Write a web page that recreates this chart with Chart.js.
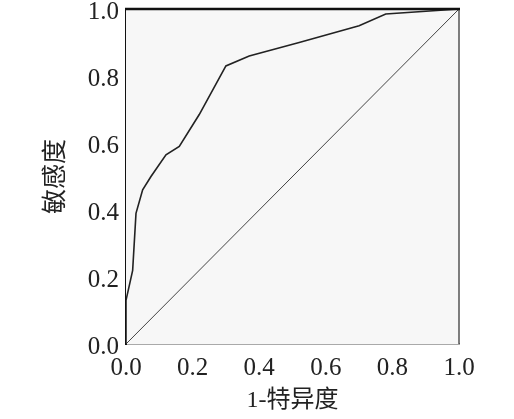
<!DOCTYPE html>
<html lang="zh">
<head>
  <meta charset="UTF-8">
  <title>ROC</title>
  <style>
    html, body { margin: 0; padding: 0; background: #fff; }
    #wrap { width: 514px; height: 419px; }
  </style>
</head>
<body>
  <div id="wrap"><canvas id="roc"></canvas></div>

  <script src="https://cdn.jsdelivr.net/npm/chart.js"></script>
  <script>
    // ROC curve
    const fpr = [0, 0, 0.02, 0.03, 0.05, 0.075, 0.12, 0.16, 0.22, 0.30, 0.37, 0.52, 0.70, 0.78, 1.0];
    const tpr = [0, 0.13, 0.22, 0.39, 0.46, 0.50, 0.565, 0.59, 0.685, 0.83, 0.86, 0.90, 0.95, 0.985, 1.0];
    const refX = [0, 1];
    const refY = [0, 1];
    const ticks = [0, 0.2, 0.4, 0.6, 0.8, 1.0];

    const serif = '"Liberation Serif", "Noto Sans CJK SC", serif';

    // plot background + top/right frame
    const frame = {
      id: 'frame',
      beforeDatasetsDraw(chart) {
        const { ctx, chartArea: a } = chart;
        ctx.save();
        ctx.fillStyle = '#f7f7f7';
        ctx.fillRect(a.left, a.top, a.right - a.left, a.bottom - a.top);
        ctx.restore();
      },
      afterDraw(chart) {
        const { ctx, chartArea: a } = chart;
        ctx.save();
        ctx.strokeStyle = '#555';
        ctx.lineWidth = 1.5;
        ctx.beginPath();
        ctx.moveTo(a.right, a.top);
        ctx.lineTo(a.right, a.bottom);
        ctx.stroke();
        ctx.strokeStyle = '#111';
        ctx.lineWidth = 2.5;
        ctx.beginPath();
        ctx.moveTo(a.left - 1, a.top);
        ctx.lineTo(a.right + 1, a.top);
        ctx.stroke();
        ctx.restore();
      }
    };

    new Chart(document.getElementById('roc'), {
      type: 'scatter',
      data: {
        datasets: [
          {
            data: fpr.map((x, i) => ({ x, y: tpr[i] })),
            showLine: true,
            borderColor: '#222',
            borderWidth: 1.6,
            pointRadius: 0,
            tension: 0
          },
          {
            data: refX.map((x, i) => ({ x, y: refY[i] })),
            showLine: true,
            borderColor: '#444',
            borderWidth: 1,
            pointRadius: 0
          }
        ]
      },
      options: {
        responsive: true,
        maintainAspectRatio: false,
        animation: false,
        layout: { padding: { top: 9, right: 55, left: 37, bottom: 0 } },
        plugins: { legend: { display: false }, tooltip: { enabled: false } },
        scales: {
          x: {
            type: 'linear', min: 0, max: 1,
            afterBuildTicks: s => { s.ticks = ticks.map(v => ({ value: v })); },
            afterFit: s => { s.height = 75; },
            grid: { display: false, drawTicks: true, tickLength: 5, color: '#333' },
            border: { color: '#555', width: 1.5 },
            ticks: {
              color: '#222', padding: 4,
              font: { family: serif, size: 25 },
              callback: v => v.toFixed(1)
            },
            title: {
              display: true, text: '1-特异度', color: '#222',
              font: { family: serif, size: 24 }, padding: { top: 3 }
            }
          },
          y: {
            type: 'linear', min: 0, max: 1,
            afterBuildTicks: s => { s.ticks = ticks.map(v => ({ value: v })); },
            afterFit: s => { s.width = 89; },
            grid: { display: false, drawTicks: true, tickLength: 5, color: '#111' },
            border: { color: '#111', width: 2 },
            ticks: {
              color: '#222', padding: 2, labelOffset: 3,
              font: { family: serif, size: 25, lineHeight: 0.5 },
              callback: v => v.toFixed(1)
            },
            title: {
              display: true, text: '敏感度', color: '#222',
              font: { family: serif, size: 25 }, padding: { bottom: 8 }
            }
          }
        }
      },
      plugins: [frame]
    });
  </script>
</body>
</html>
